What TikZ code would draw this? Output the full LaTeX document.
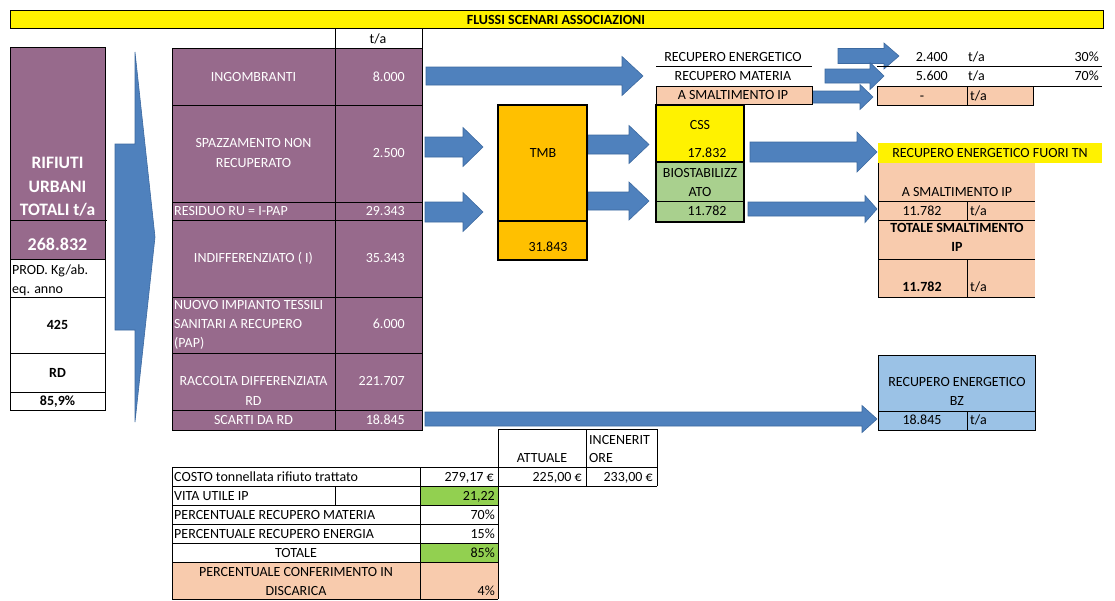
\documentclass[tikz,border=0pt]{standalone}
\usepackage{fontspec}
\setmainfont{Carlito}
\definecolor{purp}{RGB}{151,106,140}
\definecolor{ablue}{RGB}{79,129,189}
\definecolor{ablueline}{RGB}{60,105,160}
\definecolor{salmon}{RGB}{248,203,173}
\definecolor{lblue}{RGB}{155,194,230}
\definecolor{orng}{RGB}{255,192,0}
\definecolor{bgreen}{RGB}{169,208,142}
\definecolor{vgreen}{RGB}{146,208,80}
\newcommand{\fs}{\fontsize{14}{17}\selectfont}
\newcommand{\blockarr}[6]{\filldraw[arr] (#1,{#3-#4}) -- ({#2-#6},{#3-#4}) -- ({#2-#6},{#3-#5}) -- (#2,#3) -- ({#2-#6},{#3+#5}) -- ({#2-#6},{#3+#4}) -- (#1,{#3+#4}) -- cycle;}
\begin{document}
\begin{tikzpicture}[x=1pt,y=-1pt,
  every node/.style={inner sep=0pt, text height=9pt, text depth=0pt, font=\fs},
  wt/.style={text=white},
  bf/.style={font=\fs\bfseries},
  big/.style={font=\fontsize{17.5}{20}\selectfont\bfseries, text height=11.3pt, text=white},
  gl/.style={draw=black, line width=0.7pt},
  tbox/.style={draw=black, line width=2.6pt},
  arr/.style={fill=ablue, draw=ablueline, line width=0.6pt}]
\useasboundingbox (0,0) rectangle (1115,600);
\fill[white] (0,0) rectangle (1115,600);

% title
\fill[yellow] (10,10) rectangle (1103,28);
\draw[gl] (10,10) rectangle (1103,28);
\node[bf] (title) at (556,19.5) {FLUSSI SCENARI ASSOCIAZIONI};

% t/a header
\draw[gl] (335,28) -- (335,48);
\draw[gl] (422,28) -- (422,48);
\node (ta) at (378,39) {t/a};

% left column
\fill[purp] (10,47) rectangle (105,259);
\draw[gl] (10,47) rectangle (105,410);
\draw[gl] (10,220) -- (107,220);
\foreach \yy in {259,297,353,392} \draw[gl] (10,\yy) -- (105,\yy);
\node[big] (rif1) at (57.5,163) {RIFIUTI};
\node[big] (rif2) at (57.5,187) {URBANI};
\node[big] (rif3) at (57.5,210) {TOTALI t/a};
\node[big, font=\fontsize{18}{20}\selectfont\bfseries] (tot) at (57.5,245) {268.832};
\node[anchor=west] (prod1) at (12,270) {PROD. Kg/ab.};
\node[anchor=west] (prod2) at (12,289) {eq. anno};
\node[bf] (kg) at (57.5,325) {425};
\node[bf] (rdl) at (57.5,373) {RD};
\node[bf] (rdp) at (57.5,401) {85,9\%};

% big arrow
\filldraw[arr] (115,144) -- (135,144) -- (135,52) -- (155,237) -- (135,422) -- (135,330) -- (115,330) -- cycle;

% middle table
\fill[purp] (172,48) rectangle (422,430);
\draw[gl] (172,48) rectangle (422,430);
\draw[gl] (335,48) -- (335,430);
\foreach \yy in {105,202,220,297,353,410} \draw[gl] (172,\yy) -- (422,\yy);
\node[wt] (ing) at (253.5,77) {INGOMBRANTI};
\node[wt,anchor=east] (ingv) at (405,77) {8.000};
\node[wt] (spa1) at (253.5,143) {SPAZZAMENTO NON};
\node[wt] (spa2) at (253.5,163) {RECUPERATO};
\node[wt,anchor=east] (spav) at (405,153) {2.500};
\node[wt,anchor=west] (res) at (174,211) {RESIDUO RU = I-PAP};
\node[wt,anchor=east] (resv) at (405,211) {29.343};
\node[wt] (ind) at (253.5,258) {INDIFFERENZIATO ( I)};
\node[wt,anchor=east] (indv) at (405,258) {35.343};
\node[wt,anchor=west] (nuo1) at (174,305) {NUOVO IMPIANTO TESSILI};
\node[wt,anchor=west] (nuo2) at (174,324) {SANITARI A RECUPERO};
\node[wt,anchor=west] (nuo3) at (174,343) {(PAP)};
\node[wt,anchor=east] (nuov) at (405,324) {6.000};
\node[wt] (rac1) at (253.5,381) {RACCOLTA DIFFERENZIATA};
\node[wt] (rac2) at (253.5,401) {RD};
\node[wt,anchor=east] (racv) at (405,381) {221.707};
\node[wt] (sca) at (253.5,420) {SCARTI DA RD};
\node[wt,anchor=east] (scav) at (405,420) {18.845};

% arrows
\blockarr{426}{643}{76}{9}{19.5}{21}
\blockarr{425}{483}{147}{10}{19.5}{20}
\blockarr{425}{483}{212}{10}{19.5}{20}
\blockarr{588}{649}{144.5}{9.5}{19}{20}
\blockarr{588}{649}{201}{9}{19}{20}
\blockarr{838}{899}{56}{7.5}{13}{15}
\blockarr{825}{884}{76}{7}{13.5}{14}
\blockarr{812}{873}{97}{6}{12.5}{13}
\blockarr{750}{877}{152}{10}{20}{20}
\blockarr{748}{877}{209}{7}{13.5}{12}
\blockarr{425}{877}{419}{7}{13.5}{15}

% TMB
\filldraw[fill=orng, tbox] (498,105) rectangle (587,260);
\draw[tbox] (498,221) -- (587,221);
\node (tmb) at (543,153) {TMB};
\node (tmbv) at (548,247) {31.843};

% CSS / BIO
\fill[yellow] (656,105) rectangle (744,162);
\fill[bgreen] (656,162) rectangle (744,222);
\draw[gl] (656,201) -- (744,201);
\draw[tbox] (656,162) -- (744,162);
\draw[tbox] (656,105) rectangle (744,222);
\node (css) at (700,125) {CSS};
\node (cssv) at (707,153) {17.832};
\node (bio1) at (700,173) {BIOSTABILIZZ};
\node (bio2) at (700,192) {ATO};
\node (biov) at (707,211) {11.782};

% top right
\node (rene) at (733,57) {RECUPERO ENERGETICO};
\draw[gl] (656,66) -- (812,66);
\node (rmat) at (733,76) {RECUPERO MATERIA};
\filldraw[fill=salmon, gl] (656,86) rectangle (812,104);
\node (asm) at (733,95) {A SMALTIMENTO IP};
\node[anchor=east] (v24) at (948,57) {2.400};
\node[anchor=west] (t24) at (968,57) {t/a};
\node[anchor=east] (p30) at (1099,57) {30\%};
\draw[gl] (877,66) -- (1102,66);
\node[anchor=east] (v56) at (948,76) {5.600};
\node[anchor=west] (t56) at (968,76) {t/a};
\node[anchor=east] (p70) at (1099,76) {70\%};
\draw[gl] (877,86) -- (1102,86);
\filldraw[fill=salmon, gl] (877,86) rectangle (1033,105);
\draw[gl] (967,86) -- (967,105);
\node (vdash) at (922,95.5) {-};
\node[anchor=west] (tdash) at (970,95.5) {t/a};

% fuori TN
\fill[yellow] (878,143) rectangle (1102,163);
\node (ftn) at (990,153) {RECUPERO ENERGETICO FUORI TN};
\fill[salmon] (878,163) rectangle (1035,297);
\draw[gl] (878,163) -- (878,297);
\foreach \yy in {201,220,259,297} \draw[gl] (878,\yy) -- (1035,\yy);
\draw[gl] (967,201) -- (967,220);
\draw[gl] (967,259) -- (967,297);
\node (asm2) at (957,192) {A SMALTIMENTO IP};
\node (sv1) at (922,211) {11.782};
\node[anchor=west] (st1) at (970,211) {t/a};
\node[bf] (tot1) at (957,228) {TOTALE SMALTIMENTO};
\node[bf] (tot2) at (957,247) {IP};
\node[bf] (sv2) at (922,287) {11.782};
\node[anchor=west] (st2) at (970,287) {t/a};

% BZ
\fill[lblue] (878,355) rectangle (1035,430);
\draw[gl] (878,355) rectangle (1035,430);
\draw[gl] (878,411) -- (1035,411);
\draw[gl] (967,411) -- (967,430);
\node (bz1) at (957,382) {RECUPERO ENERGETICO};
\node (bz2) at (957,401) {BZ};
\node (bzv) at (922,420) {18.845};
\node[anchor=west] (bzt) at (970,420) {t/a};

% bottom tables
\fill[vgreen] (420,486) rectangle (498,505);
\fill[vgreen] (420,543) rectangle (498,562);
\fill[salmon] (172,562) rectangle (498,599);
\draw[gl] (498,429) -- (657,429);
\draw[gl] (498,429) -- (498,599);
\draw[gl] (586,429) -- (586,486);
\draw[gl] (657,429) -- (657,486);
\draw[gl] (172,467) -- (657,467);
\draw[gl] (172,486) -- (657,486);
\foreach \yy in {505,524,543,562,599} \draw[gl] (172,\yy) -- (498,\yy);
\draw[gl] (172,467) -- (172,599);
\draw[gl] (420,467) -- (420,599);
\draw[gl] (335,486) -- (335,505);
\node (att) at (542,458) {ATTUALE};
\node[anchor=west] (inc1) at (589,440) {INCENERIT};
\node[anchor=west] (inc2) at (589,458) {ORE};
\node[anchor=west] (cos) at (174,477) {COSTO tonnellata rifiuto trattato};
\node[anchor=east] (cos1) at (494,477) {279,17 €};
\node[anchor=east] (cos2) at (582,477) {225,00 €};
\node[anchor=east] (cos3) at (653,477) {233,00 €};
\node[anchor=west] (vita) at (174,496) {VITA UTILE IP};
\node[anchor=east] (vitav) at (495,496) {21,22};
\node[anchor=west] (pmat) at (174,515) {PERCENTUALE RECUPERO MATERIA};
\node[anchor=east] (pmatv) at (495,515) {70\%};
\node[anchor=west] (pen) at (174,534) {PERCENTUALE RECUPERO ENERGIA};
\node[anchor=east] (penv) at (495,534) {15\%};
\node (totl) at (296,553) {TOTALE};
\node[anchor=east] (totv) at (495,553) {85\%};
\node (disc1) at (296,572) {PERCENTUALE CONFERIMENTO IN};
\node (disc2) at (296,591) {DISCARICA};
\node[anchor=east] (discv) at (495,591) {4\%};
\end{tikzpicture}
\end{document}
